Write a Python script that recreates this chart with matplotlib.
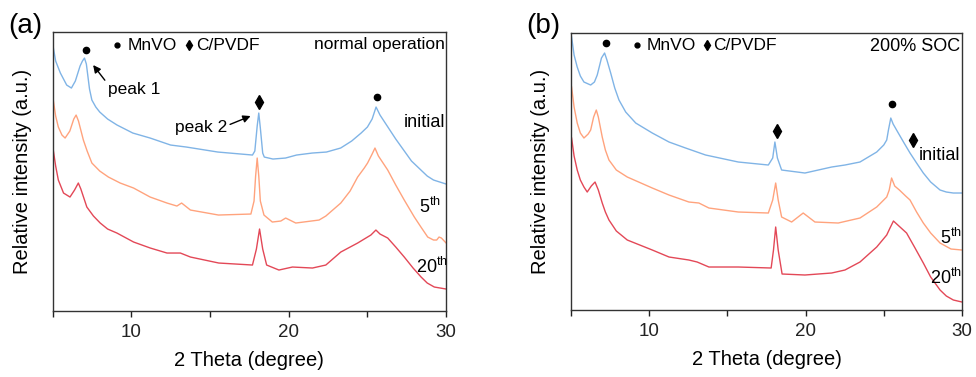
import matplotlib
matplotlib.use('Agg')
import matplotlib.pyplot as plt

plt.rcParams['font.family'] = ['Liberation Sans', 'DejaVu Sans']
plt.rcParams['mathtext.default'] = 'regular'

# ---------------- data (2 theta in degree, intensity in a.u.) ----------------
# (a) normal operation
a_init_x = [5.0, 5.2, 5.5, 5.9, 6.2, 6.45, 6.75, 6.9, 7.03, 7.15, 7.35, 7.5, 7.75, 8.0, 8.5, 9.1,
            10.1, 11.2, 12.5, 13.5, 15.5, 17.7, 17.85, 18.0, 18.1, 18.2, 18.35, 18.45, 19.0, 19.8,
            20.5, 21.5, 22.4, 23.3, 24.0, 24.6, 25.0, 25.3, 25.55, 25.8, 26.3, 26.8, 27.3, 27.8,
            28.4, 28.8, 29.2, 30.0]
a_init_y = [268, 250, 238, 226, 223, 230, 245, 250, 253, 247, 222, 211, 204, 199, 192, 186,
            178, 173, 166, 164, 159, 156, 160, 185, 198, 183, 158, 154, 152, 153,
            156, 158, 159, 163, 170, 178, 184, 192, 204, 196, 184, 172, 161, 150,
            141, 135, 131, 127]

a_5th_x = [5.0, 5.2, 5.37, 5.6, 5.8, 6.1, 6.35, 6.5, 6.65, 6.96, 7.2, 7.5, 8.0, 8.55, 9.3, 10.15,
           11.2, 12.27, 12.9, 13.2, 13.76, 15.54, 17.6, 17.8, 17.9, 18.0, 18.1, 18.2, 18.43, 18.96,
           19.5, 19.81, 20.45, 21.93, 22.36, 23.31, 23.9, 24.38, 24.8, 25.01, 25.3, 25.48, 25.7,
           26.29, 26.8, 27.34, 27.98, 28.4, 28.83, 29.2, 29.4, 29.55, 29.7, 30.0]
a_5th_y = [216, 195, 184, 176, 173, 180, 192, 196, 190, 171, 160, 148, 140, 134, 128, 123,
           114, 108, 105, 108, 101, 96, 97, 110, 135, 153, 135, 110, 96, 89,
           90, 93, 88, 91, 95, 108, 120, 134, 143, 148, 157, 163, 155,
           141, 126, 111, 94, 84, 74, 71, 71, 74, 73, 68]

a_20th_x = [5.0, 5.2, 5.37, 5.7, 6.11, 6.4, 6.64, 6.8, 7.18, 7.6, 8.03, 8.5, 9.09, 10.15, 11.21,
            12.27, 13.12, 13.76, 15.56, 17.7, 17.95, 18.15, 18.35, 18.6, 19.38, 20.24, 21.51, 22.36,
            23.31, 24.38, 25.22, 25.54, 25.8, 26.29, 26.8, 27.34, 27.9, 28.41, 28.8, 29.25, 30.0]
a_20th_y = [166, 145, 131, 118, 114, 121, 128, 122, 104, 95, 88, 82, 78, 69, 63,
            58, 58, 54, 48, 46, 62, 82, 62, 46, 41, 44, 43, 46,
            59, 68, 76, 81, 77, 73, 64, 54, 43, 34, 28, 24, 22]

# (b) 200% SOC
b_init_x = [5.04, 5.2, 5.4, 5.6, 5.83, 6.26, 6.5, 6.68, 6.95, 7.15, 7.3, 7.54, 7.8, 8.07, 8.5, 9.14,
            10.2, 11.27, 12.33, 13.61, 15.7, 17.62, 17.9, 18.04, 18.2, 18.47, 19.96, 21.67, 22.52,
            23.48, 24.55, 25.0, 25.19, 25.3, 25.45, 25.6, 25.93, 26.3, 26.68, 27.1, 27.53, 28.0,
            28.6, 29.0, 29.45, 30.0]
b_init_y = [273, 255, 243, 234, 228, 225, 228, 235, 252, 257, 250, 237, 222, 210, 198, 187,
            177, 168, 162, 155, 148, 145, 152, 168, 152, 140, 137, 143, 145,
            148, 158, 165, 170, 180, 192, 186, 177, 167, 157, 147, 137, 128,
            120, 118, 117, 117]

b_5th_x = [5.04, 5.2, 5.4, 5.6, 5.83, 6.1, 6.26, 6.45, 6.62, 6.75, 7.0, 7.2, 7.43, 7.9, 8.6, 10.2,
           11.27, 12.54, 13.18, 13.82, 15.7, 17.62, 17.9, 18.09, 18.25, 18.47, 19.11, 19.85, 20.6,
           22.09, 23.48, 24.55, 25.19, 25.35, 25.5, 25.7, 26.0, 26.4, 26.68, 27.1, 27.53, 28.0,
           28.6, 29.3, 30.0]
b_5th_y = [223, 203, 187, 177, 172, 176, 180, 193, 200, 193, 173, 160, 150, 140, 133, 122,
           115, 108, 107, 102, 98, 97, 110, 127, 110, 93, 88, 97, 88,
           87, 92, 103, 113, 120, 132, 124, 120, 114, 110, 98, 87, 77,
           67, 61, 60]

b_20th_x = [5.04, 5.2, 5.4, 5.6, 5.83, 6.04, 6.3, 6.54, 6.75, 7.0, 7.2, 7.43, 7.9, 8.6, 10.2, 11.27,
            12.54, 13.07, 13.82, 15.7, 17.8, 17.95, 18.09, 18.25, 18.5, 19.96, 21.67, 22.52, 23.48,
            24.55, 25.19, 25.4, 25.62, 25.9, 26.46, 27.0, 27.53, 28.0, 28.6, 29.0, 29.45, 30.0]
b_20th_y = [172, 154, 140, 130, 123, 118, 124, 128, 120, 107, 98, 90, 79, 70, 60, 53,
            50, 48, 43, 43, 42, 60, 83, 60, 36, 35, 37, 40, 48,
            63, 75, 82, 89, 85, 77, 62, 47, 33, 20, 14, 10, 8]

c_init = '#80b4e6'
c_5th = '#ffa37d'
c_20th = '#e34857'


def setup_axes(ax, ytop):
    ax.set_xlim(5, 30)
    ax.set_ylim(0, ytop)
    ax.set_xticks([5, 10, 15, 20, 25, 30])
    ax.set_xticklabels(['', '10', '', '20', '', '30'])
    ax.set_yticks([])
    ax.tick_params(axis='x', direction='out', length=4, width=1, pad=5, labelsize=13.5, colors='#222222')
    for s in ax.spines.values():
        s.set_linewidth(1.0)
        s.set_color('#333333')
    ax.set_xlabel('2 Theta (degree)', fontsize=14.5)
    ax.set_ylabel('Relative intensity (a.u.)', fontsize=14.5)
    ax.xaxis.set_label_coords(0.5, -0.145)
    ax.yaxis.set_label_coords(-0.053, 0.5)


fig = plt.figure(figsize=(9.76, 3.77), dpi=100)
ax1 = fig.add_axes([0.0538, 0.175, 0.4033, 0.740])
ax2 = fig.add_axes([0.585, 0.1777, 0.4006, 0.7347])

# ---------- panel (a) ----------
ax1.plot(a_init_x, a_init_y, color=c_init, lw=1.0)
ax1.plot(a_5th_x, a_5th_y, color=c_5th, lw=1.0)
ax1.plot(a_20th_x, a_20th_y, color=c_20th, lw=1.0)
setup_axes(ax1, 279)

ax1.plot([7.13], [261], 'o', color='black', ms=4.5)
ax1.plot([18.09], [209], 'd', color='black', ms=7)
ax1.plot([25.6], [214], 'o', color='black', ms=4.5)
ax1.plot([9.11], [266], 'o', color='black', ms=3.5)
ax1.text(9.75, 266, 'MnVO', fontsize=12.5, ha='left', va='center')
ax1.plot([13.7], [266], 'd', color='black', ms=5.5)
ax1.text(14.1, 266, 'C/PVDF', fontsize=12.5, ha='left', va='center')
ax1.text(29.95, 267, 'normal operation', fontsize=12.5, ha='right', va='center')

ax1.annotate('peak 1', xy=(7.58, 246), xytext=(8.5, 222), fontsize=12.5, ha='left', va='center',
             arrowprops=dict(arrowstyle='-|>', color='black', lw=1, mutation_scale=11,
                             shrinkA=0, shrinkB=0, relpos=(0, 0.85)))
ax1.annotate('peak 2', xy=(17.58, 195), xytext=(16.1, 184), fontsize=12.5, ha='right', va='center',
             arrowprops=dict(arrowstyle='-|>', color='black', lw=1, mutation_scale=11,
                             shrinkA=0, shrinkB=0, relpos=(1, 0.6)))

ax1.text(29.95, 189, 'initial', fontsize=13, ha='right', va='center')
ax1.text(29.7, 104, '5$^{th}$', fontsize=13, ha='right', va='center')
ax1.text(30.1, 44, '20$^{th}$', fontsize=13, ha='right', va='center')

# ---------- panel (b) ----------
ax2.plot(b_init_x, b_init_y, color=c_init, lw=1.0)
ax2.plot(b_5th_x, b_5th_y, color=c_5th, lw=1.0)
ax2.plot(b_20th_x, b_20th_y, color=c_20th, lw=1.0)
setup_axes(ax2, 277)

ax2.plot([7.22], [267], 'o', color='black', ms=4.5)
ax2.plot([18.15], [179], 'd', color='black', ms=7)
ax2.plot([25.5], [206], 'o', color='black', ms=4.5)
ax2.plot([26.85], [170], 'd', color='black', ms=7)
ax2.plot([9.2], [265], 'o', color='black', ms=3.5)
ax2.text(9.82, 265, 'MnVO', fontsize=12.5, ha='left', va='center')
ax2.plot([13.68], [265], 'd', color='black', ms=5.5)
ax2.text(14.1, 265, 'C/PVDF', fontsize=12.5, ha='left', va='center')
ax2.text(29.87, 264, '200% SOC', fontsize=13, ha='right', va='center')

ax2.text(29.87, 155, 'initial', fontsize=13, ha='right', va='center')
ax2.text(30.0, 72, '5$^{th}$', fontsize=13, ha='right', va='center')
ax2.text(30.0, 32, '20$^{th}$', fontsize=13, ha='right', va='center')

fig.text(25 / 976, 1 - 26 / 377, '(a)', fontsize=20, ha='center', va='center')
fig.text(543 / 976, 1 - 26 / 377, '(b)', fontsize=20, ha='center', va='center')

fig.savefig('out.png', dpi=100)
